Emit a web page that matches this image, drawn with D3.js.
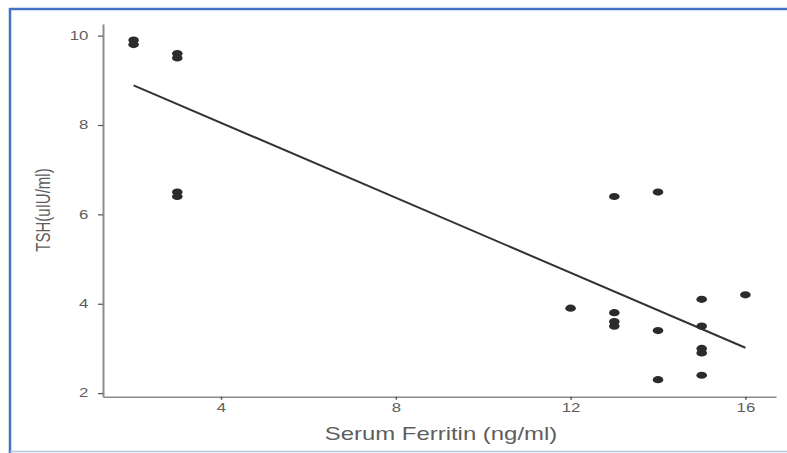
<!DOCTYPE html>
<html>
<head>
<meta charset="utf-8">
<script src="https://cdn.jsdelivr.net/npm/d3@7"></script>
<style>
  html, body { margin: 0; padding: 0; background: #fff; }
  text { font-family: "Liberation Sans", Arial, sans-serif; }
</style>
</head>
<body>
<div id="chart"></div>
<script>
// Serum ferritin (x) vs TSH (y)
const ferritin = [2, 2, 3, 3, 3, 3, 12, 13, 13, 13, 13, 14, 14, 14, 15, 15, 15, 15, 15, 16];
const tsh = [9.9, 9.8, 9.6, 9.5, 6.5, 6.4, 3.9, 6.4, 3.8, 3.6, 3.5, 6.5, 3.4, 2.3, 4.1, 3.5, 3.0, 2.9, 2.4, 4.2];
const xTicks = [4, 8, 12, 16];
const yTicks = [2, 4, 6, 8, 10];

const W = 787, H = 453;
const stretch = 1.4; // the picture is wider than tall, text follows

const svg = d3.select("#chart").append("svg")
  .attr("width", W).attr("height", H);

// blue frame
svg.append("line").attr("x1", 9).attr("x2", W).attr("y1", 9).attr("y2", 9)
  .attr("stroke", "#4472c4").attr("stroke-width", 2.5);
svg.append("line").attr("x1", 10).attr("x2", 10).attr("y1", 8).attr("y2", H)
  .attr("stroke", "#4472c4").attr("stroke-width", 2.5);
svg.append("line").attr("x1", 10).attr("x2", W).attr("y1", 451.5).attr("y2", 451.5)
  .attr("stroke", "#b4c7e7").attr("stroke-width", 1.5);

const x = d3.scaleLinear().domain([1.3, 16.7]).range([103, 776]);
const y = d3.scaleLinear().domain([1.92, 10.26]).range([396.7, 24]);

const axisColor = "#8c8c8c", labelColor = "#5e5e5e";

// x axis
const gx = svg.append("g").attr("transform", `translate(0,${y.range()[0]})`)
  .call(d3.axisBottom(x).tickValues(xTicks).tickSize(3).tickSizeOuter(0));
gx.select(".domain").attr("stroke", axisColor).attr("stroke-width", 1.6);
gx.selectAll(".tick line").attr("stroke", "#555").attr("stroke-width", 1.5);
gx.selectAll(".tick text")
  .attr("y", 7).attr("dy", "0.71em")
  .attr("font-size", 12).attr("fill", labelColor)
  .attr("transform", `scale(${stretch},1)`);

// y axis
const gy = svg.append("g").attr("transform", `translate(${x.range()[0]},0)`)
  .call(d3.axisLeft(y).tickValues(yTicks).tickSize(5).tickSizeOuter(0));
gy.select(".domain").attr("stroke", axisColor).attr("stroke-width", 2);
gy.selectAll(".tick line").attr("stroke", "#555").attr("stroke-width", 1.2);
gy.selectAll(".tick text")
  .attr("x", -10.4)
  .attr("font-size", 12).attr("fill", labelColor)
  .attr("transform", `scale(${stretch},1)`);

// axis titles
svg.append("text")
  .attr("transform", `translate(441,440) scale(1.33,1)`)
  .attr("text-anchor", "middle")
  .attr("font-size", 18).attr("fill", labelColor)
  .text("Serum Ferritin (ng/ml)");

svg.append("text")
  .attr("transform", `translate(50,210) rotate(-90) scale(1,${stretch})`)
  .attr("text-anchor", "middle")
  .attr("font-size", 15).attr("fill", labelColor)
  .text("TSH(uIU/ml)");

// least squares fit
const pts = ferritin.map((f, i) => ({ f: f, t: tsh[i] }));
const mx = d3.mean(ferritin), my = d3.mean(tsh);
const slope = d3.sum(pts, d => (d.f - mx) * (d.t - my)) / d3.sum(pts, d => (d.f - mx) * (d.f - mx));
const icpt = my - slope * mx;
const [fmin, fmax] = d3.extent(ferritin);

svg.append("line")
  .attr("x1", x(fmin)).attr("y1", y(icpt + slope * fmin))
  .attr("x2", x(fmax)).attr("y2", y(icpt + slope * fmax))
  .attr("stroke", "#333").attr("stroke-width", 2);

// points
svg.append("g").selectAll("ellipse")
  .data(pts)
  .join("ellipse")
  .attr("cx", d => x(d.f))
  .attr("cy", d => y(d.t))
  .attr("rx", 5.3)
  .attr("ry", 3.6)
  .attr("fill", "#2b2b2b");
</script>
</body>
</html>
